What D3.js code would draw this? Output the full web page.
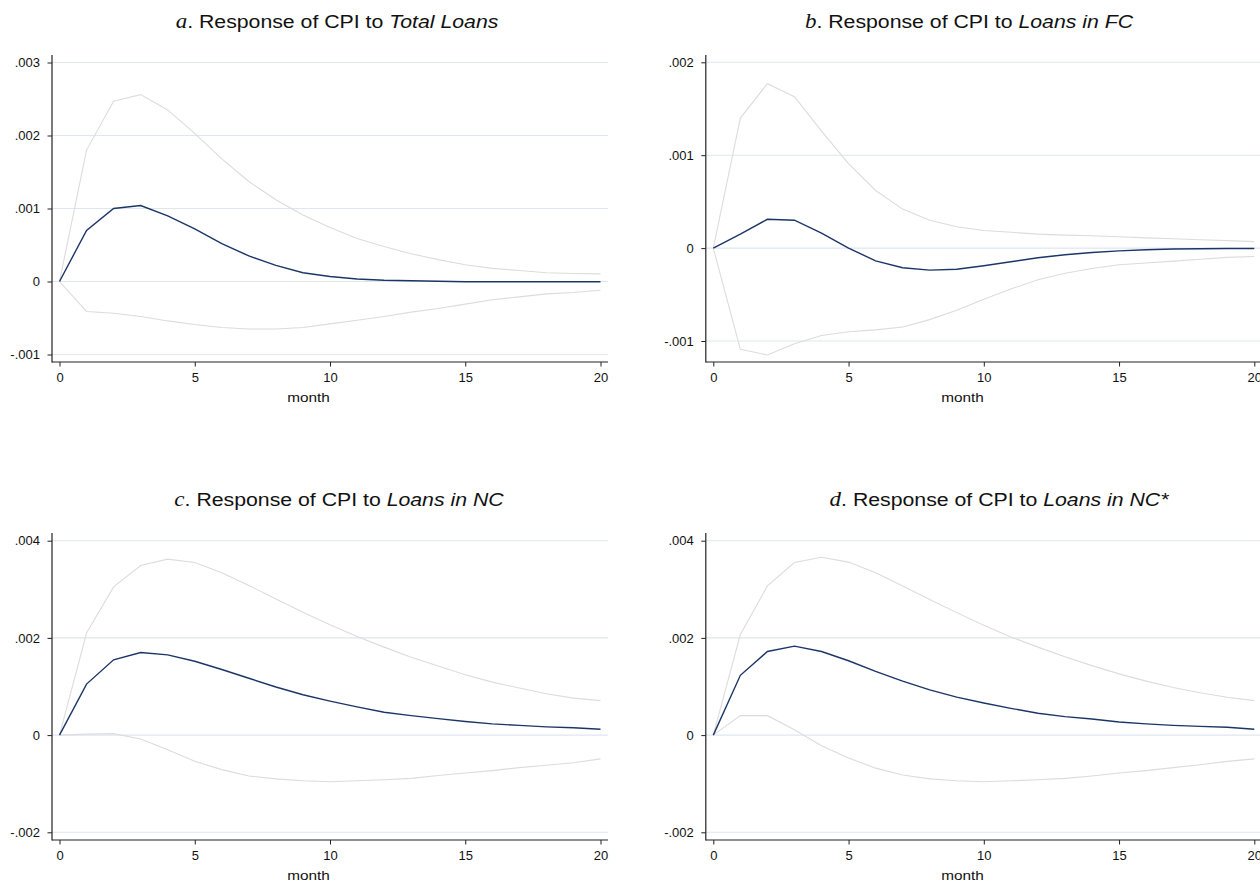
<!DOCTYPE html>
<html>
<head>
<meta charset="utf-8">
<script src="https://cdn.jsdelivr.net/npm/d3@7"></script>
<style>
  html, body { margin: 0; padding: 0; background: #ffffff; }
  svg { display: block; }
</style>
</head>
<body>
<svg id="chart" width="1260" height="883"></svg>
<script>
// ---------------- DATA ----------------
const months = d3.range(0, 21);

// a. Total Loans
const irfA   = [0, .00070, .00100, .00104, .00090, .00072, .00052, .00035, .00022, .00012, .000068, .000035, .000018, .00001, .000003, -.000003, -.000004, -.000004, -.000004, -.000004, -.000004];
const upperA = [0, .00180, .00247, .00256, .00235, .00203, .00168, .00137, .00112, .00091, .00074, .00059, .00048, .00038, .00030, .00023, .00018, .00015, .00012, .00011, .000105];
const lowerA = [0, -.00041, -.000435, -.00048, -.00054, -.00059, -.00063, -.00065, -.00065, -.00063, -.00058, -.00053, -.00048, -.00042, -.00037, -.00031, -.00025, -.00021, -.00017, -.00015, -.00012];

// b. Loans in FC
const irfB   = [0, .00015, .00031, .00030, .00016, 0, -.000137, -.000212, -.000237, -.000227, -.00019, -.000147, -.000104, -.000072, -.000047, -.00003, -.000018, -.00001, -.000007, -.000005, -.000004];
const upperB = [0, .00140, .00177, .00163, .00126, .00091, .00062, .00042, .00030, .00023, .00019, .00017, .00015, .00014, .000133, .000122, .00011, .00010, .00009, .00008, .00007];
const lowerB = [0, -.00109, -.00115, -.00103, -.00094, -.00090, -.00088, -.00085, -.00077, -.00067, -.00055, -.00044, -.00034, -.00027, -.00022, -.00018, -.00016, -.00014, -.00012, -.00010, -.00009];

// c. Loans in NC
const irfC   = [0, .00105, .00155, .00170, .00165, .00152, .00135, .00117, .00099, .00083, .00070, .00058, .00047, .00040, .00034, .00028, .00023, .00020, .00017, .00015, .00012];
const upperC = [0, .00210, .00305, .00349, .00362, .00355, .00334, .00308, .00280, .00253, .00227, .00203, .00181, .00160, .00142, .00124, .00109, .00097, .00085, .00076, .00071];
const lowerC = [0, .00002, .00003, -.00008, -.00030, -.00054, -.00071, -.00084, -.00090, -.00094, -.00096, -.00094, -.00092, -.00089, -.00083, -.00078, -.00073, -.00067, -.00062, -.00057, -.00049];

// d. Loans in NC*
const irfD   = [0, .00123, .00172, .00183, .00172, .00153, .00131, .00111, .00093, .00078, .00066, .00055, .00045, .00038, .00033, .00027, .00023, .00020, .00018, .00016, .00012];
const upperD = [0, .00207, .00307, .00355, .00366, .00356, .00334, .00307, .00279, .00252, .00226, .00202, .00181, .00161, .00143, .00126, .00111, .00098, .00087, .00078, .00071];
const lowerD = [0, .00040, .00040, .00011, -.00022, -.00047, -.00068, -.00082, -.00090, -.00094, -.00096, -.00094, -.00092, -.00089, -.00084, -.00078, -.00073, -.00067, -.00061, -.00054, -.00049];

// tick values
const xTicks  = [0, 5, 10, 15, 20];
const yTicksA = [-0.001, 0, 0.001, 0.002, 0.003];
const yTicksB = [-0.001, 0, 0.001, 0.002];
const yTicksC = [-0.002, 0, 0.002, 0.004];
const yTicksD = [-0.002, 0, 0.002, 0.004];

// titles
const titleLetters = ["a", "b", "c", "d"];
const titleShocks  = ["Total Loans", "Loans in FC", "Loans in NC", "Loans in NC*"];
const xLabel = "month";

// ---------------- LAYOUT ----------------
const svg = d3.select("#chart");
svg.append("rect").attr("width", 1260).attr("height", 883).attr("fill", "#ffffff");

const SANS = "'Liberation Sans', Arial, Helvetica, sans-serif";
const SERIF = "'Liberation Serif', 'Times New Roman', serif";
const SX = 1.15; // horizontal stretch of the original rendering

const panels = [
  { irf: irfA, up: upperA, lo: lowerA, ticks: yTicksA, dx: 0,     dy: 0,   yTopPx: 62.5, yBotPx: 354.5, titleX: 337, monthX: 308.5 },
  { irf: irfB, up: upperB, lo: lowerB, ticks: yTicksB, dx: 653.8, dy: 0,   yTopPx: 62.3, yBotPx: 341.0, titleX: 969, monthX: 962.5 },
  { irf: irfC, up: upperC, lo: lowerC, ticks: yTicksC, dx: 0,     dy: 478, yTopPx: 62.7, yBotPx: 354.3, titleX: 339, monthX: 308.5 },
  { irf: irfD, up: upperD, lo: lowerD, ticks: yTicksD, dx: 653.8, dy: 478, yTopPx: 62.7, yBotPx: 354.3, titleX: 999, monthX: 962.5 }
];

const fmt = v => {
  if (Math.abs(v) < 1e-12) return "0";
  return d3.format(".3f")(v).replace("0.", ".").replace("−", "-");
};

panels.forEach((p, i) => {
  const g = svg.append("g").attr("transform", `translate(${p.dx},${p.dy})`);
  const axisX = 52, plotRight = 608, axisTop = 55, axisBottom = 362;

  const x = d3.scaleLinear().domain([0, 20]).range([59.5, 600.5]);
  const yMin = d3.min(p.ticks), yMax = d3.max(p.ticks);
  const y = d3.scaleLinear().domain([yMin, yMax]).range([p.yBotPx, p.yTopPx]);

  // gridlines
  g.append("g").selectAll("line").data(p.ticks).join("line")
    .attr("x1", axisX).attr("x2", plotRight)
    .attr("y1", d => y(d)).attr("y2", d => y(d))
    .attr("stroke", "#dfe6ef").attr("stroke-width", 1.1);

  // y axis
  const yAxis = d3.axisLeft(y).tickValues(p.ticks).tickSize(4.5).tickSizeOuter(0).tickPadding(7.5).tickFormat(fmt);
  const ya = g.append("g").attr("transform", `translate(${axisX},0)`).call(yAxis);
  ya.select(".domain").remove();
  ya.selectAll(".tick line").attr("stroke", "#222").attr("stroke-width", 1);
  ya.selectAll(".tick text").attr("font-family", SANS).attr("font-size", 13).attr("fill", "#111");

  // x axis
  const xAxis = d3.axisBottom(x).tickValues(xTicks).tickSize(4.5).tickSizeOuter(0).tickPadding(6).tickFormat(d3.format("d"));
  const xa = g.append("g").attr("transform", `translate(0,${axisBottom})`).call(xAxis);
  xa.select(".domain").remove();
  xa.selectAll(".tick line").attr("stroke", "#222").attr("stroke-width", 1);
  xa.selectAll(".tick text").attr("font-family", SANS).attr("font-size", 13).attr("fill", "#111");

  // axis lines
  g.append("line").attr("x1", axisX).attr("x2", axisX).attr("y1", axisTop).attr("y2", axisBottom + 0.5)
    .attr("stroke", "#222").attr("stroke-width", 1.2);
  g.append("line").attr("x1", axisX).attr("x2", plotRight).attr("y1", axisBottom).attr("y2", axisBottom)
    .attr("stroke", "#222").attr("stroke-width", 1.2);

  // lines
  const line = d3.line().x((d, k) => x(months[k])).y(d => y(d));
  g.append("path").datum(p.up).attr("d", line).attr("fill", "none").attr("stroke", "#dcdcdc").attr("stroke-width", 1.1);
  g.append("path").datum(p.lo).attr("d", line).attr("fill", "none").attr("stroke", "#dcdcdc").attr("stroke-width", 1.1);
  g.append("path").datum(p.irf).attr("d", line).attr("fill", "none").attr("stroke", "#1c3567").attr("stroke-width", 1.4);

  // x label
  svg.append("g").attr("transform", `translate(${p.monthX},${p.dy + 402}) scale(1.18,1)`)
    .append("text").attr("text-anchor", "middle").attr("font-family", SANS).attr("font-size", 13)
    .attr("fill", "#111").text(xLabel);

  // title
  const t = svg.append("g").attr("transform", `translate(${p.titleX},${p.dy + 28}) scale(${SX},1)`)
    .append("text").attr("text-anchor", "middle").attr("font-size", 18.5).attr("fill", "#111");
  t.append("tspan").attr("font-family", SERIF).attr("font-style", "italic").attr("font-size", 20).text(titleLetters[i]);
  t.append("tspan").attr("font-family", SANS).text(". Response of CPI to ");
  t.append("tspan").attr("font-family", SANS).attr("font-style", "italic").text(titleShocks[i]);
});
</script>
</body>
</html>
